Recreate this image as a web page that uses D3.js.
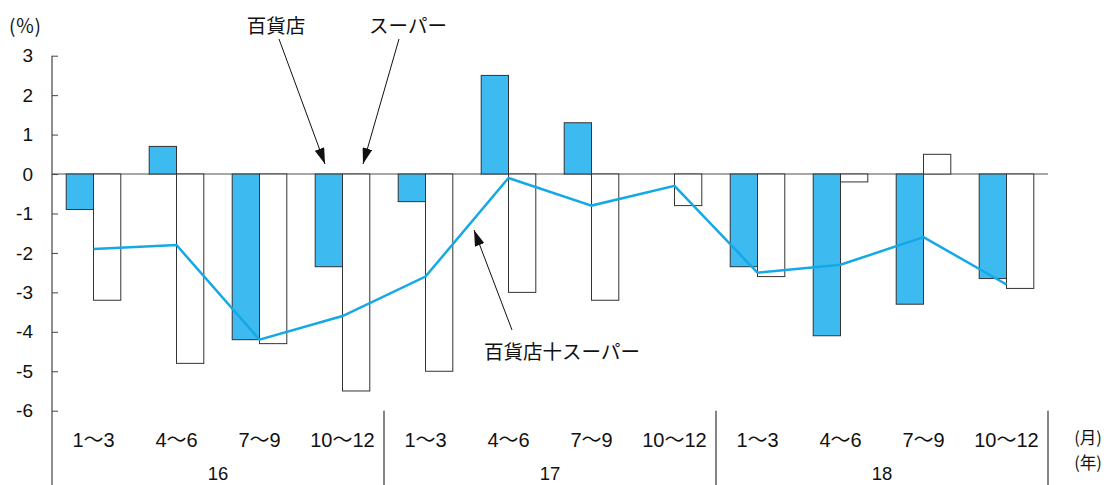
<!DOCTYPE html>
<html>
<head>
<meta charset="utf-8">
<script src="https://cdn.jsdelivr.net/npm/d3@7"></script>
<style>
  html, body { margin: 0; padding: 0; background: #fff; }
  svg text { font-family: "Liberation Sans", "Noto Sans CJK JP", sans-serif; fill: #111; }
  svg text.cjk { font-family: "Noto Sans CJK JP", sans-serif; }
</style>
</head>
<body>
<svg id="chart" width="1112" height="485"></svg>
<script>
// Quarter labels and years
const quarters = ["1〜3", "4〜6", "7〜9", "10〜12"];
const years = ["16", "17", "18"];
const periods = years.flatMap(y => quarters.map(q => y + "-" + q));

// Year-on-year change (%)
const deptStore = [-0.9, 0.7, -4.2, -2.35, -0.7, 2.5, 1.3, 0.0, -2.35, -4.1, -3.3, -2.65];
const supermarket = [-3.2, -4.8, -4.3, -5.5, -5.0, -3.0, -3.2, -0.8, -2.6, -0.2, 0.5, -2.9];
const combined = [-1.9, -1.8, -4.2, -3.6, -2.6, -0.1, -0.8, -0.3, -2.5, -2.3, -1.6, -2.8];

const yTicks = [3, 2, 1, 0, -1, -2, -3, -4, -5, -6];

const svg = d3.select("#chart");
const plotL = 52, plotR = 1048, plotT = 55.7, plotB = 410.7;

const x = d3.scaleBand().domain(periods).range([plotL, plotR]);
const y = d3.scaleLinear().domain([-6, 3]).range([plotB, plotT]);
const barW = 27.3;

// zero line
svg.append("line")
  .attr("x1", plotL).attr("x2", plotR)
  .attr("y1", y(0)).attr("y2", y(0))
  .attr("stroke", "#8a8a8a").attr("stroke-width", 1.5);

const mid = p => x(p) + x.bandwidth() / 2;

// department store bars
svg.append("g").selectAll("rect")
  .data(periods.map((p, i) => ({p, v: deptStore[i]})))
  .join("rect")
  .attr("x", d => mid(d.p) - barW)
  .attr("width", barW)
  .attr("y", d => y(Math.max(0, d.v)))
  .attr("height", d => Math.abs(y(d.v) - y(0)))
  .attr("fill", "#3dbaef")
  .attr("stroke", "#333")
  .attr("stroke-width", 1);

// supermarket bars
svg.append("g").selectAll("rect")
  .data(periods.map((p, i) => ({p, v: supermarket[i]})))
  .join("rect")
  .attr("x", d => mid(d.p))
  .attr("width", barW)
  .attr("y", d => y(Math.max(0, d.v)))
  .attr("height", d => Math.abs(y(d.v) - y(0)))
  .attr("fill", "#fff")
  .attr("stroke", "#333")
  .attr("stroke-width", 1);

// combined line
const line = d3.line().x((d, i) => mid(periods[i])).y(d => y(d));
svg.append("path")
  .datum(combined)
  .attr("d", line)
  .attr("fill", "none")
  .attr("stroke", "#14a9e6")
  .attr("stroke-width", 2.5)
  .attr("stroke-linejoin", "miter");

// y axis
const yAxis = d3.axisLeft(y)
  .tickValues(yTicks)
  .tickFormat(d => String(d))
  .tickSizeInner(-6)
  .tickSizeOuter(0)
  .tickPadding(19);
const ga = svg.append("g").attr("transform", `translate(${plotL},0)`).call(yAxis);
ga.select(".domain").remove();
ga.selectAll(".tick line").attr("stroke", "#444");
ga.selectAll(".tick text").attr("font-size", 19).attr("fill", "#111")
  .style("font-family", "'Liberation Sans', sans-serif");

// axis line and year separators down to the bottom
svg.append("line")
  .attr("x1", plotL).attr("x2", plotL).attr("y1", plotT).attr("y2", 485)
  .attr("stroke", "#444").attr("stroke-width", 1.2);
years.forEach((yr, i) => {
  const xs = x(periods[i * 4 + 3]) + x.bandwidth();
  svg.append("line")
    .attr("x1", xs).attr("x2", xs).attr("y1", plotB).attr("y2", 485)
    .attr("stroke", "#333").attr("stroke-width", 1.2);
});

// quarter labels
svg.append("g").selectAll("text")
  .data(periods)
  .join("text")
  .attr("x", d => mid(d))
  .attr("y", 447)
  .attr("text-anchor", "middle")
  .attr("font-size", 20)
  .text(d => d.split("-")[1]);

// year labels
svg.append("g").selectAll("text")
  .data(years)
  .join("text")
  .attr("x", (d, i) => (x(periods[i * 4]) + x(periods[i * 4 + 3]) + x.bandwidth()) / 2)
  .attr("y", 480)
  .attr("text-anchor", "middle")
  .attr("font-size", 18.5)
  .text(d => d);

// unit labels
svg.append("text").attr("class", "cjk").attr("x", 25).attr("y", 33)
  .attr("text-anchor", "middle").attr("font-size", 19).text("(％)");
svg.append("text").attr("class", "cjk").attr("x", 1088).attr("y", 444)
  .attr("font-size", 16.5).attr("text-anchor", "middle").text("(月)");
svg.append("text").attr("class", "cjk").attr("x", 1088).attr("y", 468.5)
  .attr("font-size", 16.5).attr("text-anchor", "middle").text("(年)");

// annotations with arrows
const defs = svg.append("defs");
defs.append("marker")
  .attr("id", "arrow")
  .attr("viewBox", "0 0 16 10")
  .attr("refX", 16).attr("refY", 5)
  .attr("markerWidth", 16).attr("markerHeight", 10)
  .attr("markerUnits", "userSpaceOnUse")
  .attr("orient", "auto")
  .append("path").attr("d", "M0,0 L16,5 L0,10 Z").attr("fill", "#111");

function annotate(label, tx, ty, x1, y1, x2, y2) {
  svg.append("text").attr("class", "cjk").attr("x", tx).attr("y", ty).attr("text-anchor", "middle")
    .attr("font-size", 19.5).text(label);
  svg.append("line")
    .attr("x1", x1).attr("y1", y1).attr("x2", x2).attr("y2", y2)
    .attr("stroke", "#111").attr("stroke-width", 1)
    .attr("marker-end", "url(#arrow)");
}
annotate("百貨店", 276, 32.5, 279, 39, 325, 164);
annotate("スーパー", 408, 32.5, 399, 39, 363, 164);
annotate("百貨店十スーパー", 562, 358.5, 512, 330, 474, 230);
</script>
</body>
</html>
